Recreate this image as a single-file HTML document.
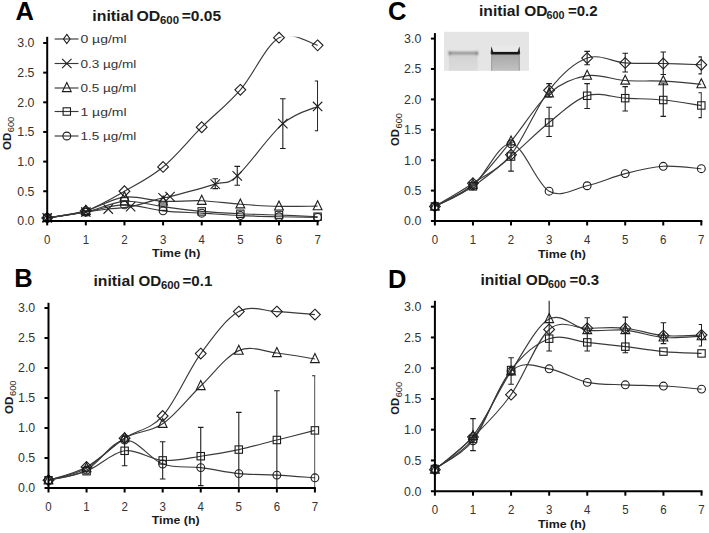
<!DOCTYPE html><html><head><meta charset="utf-8"><style>html,body{margin:0;padding:0;background:#fff;}svg{display:block;font-family:"Liberation Sans",sans-serif;}</style></head><body>
<svg width="709" height="533" viewBox="0 0 709 533">
<rect width="709" height="533" fill="#fff"/>
<defs><linearGradient id="lane1" x1="0" y1="0" x2="0" y2="1"><stop offset="0" stop-color="#d2d2d2"/><stop offset="1" stop-color="#dcdcdc"/></linearGradient><linearGradient id="lane2" x1="0" y1="0" x2="0" y2="1"><stop offset="0" stop-color="#a6a6a6"/><stop offset="1" stop-color="#c2c2c2"/></linearGradient></defs>
<clipPath id="cA"><rect x="47.20" y="36.80" width="276.40" height="184.10"/></clipPath>
<g clip-path="url(#cA)">
<path d="M47.20,217.94 C53.64,216.75 72.95,215.27 85.83,210.82 C98.71,206.37 111.58,198.56 124.46,191.25 C137.34,183.94 150.21,177.61 163.09,166.94 C175.97,156.26 188.84,140.05 201.72,127.21 C214.60,114.36 227.47,104.77 240.35,89.85 C253.23,74.92 266.10,45.08 278.98,37.66 C291.86,30.25 311.17,44.09 317.61,45.37" fill="none" stroke="#3a3a3a" stroke-width="1.15"/>
<path d="M47.20,217.94 C53.64,216.95 75.66,213.49 85.83,212.00 C96.00,210.52 100.77,209.93 108.24,209.04 C115.70,208.15 121.50,208.55 130.64,206.67 C139.78,204.79 156.52,199.45 163.09,197.77 C169.66,196.09 161.35,198.86 170.04,196.59 C178.74,194.31 204.04,187.59 215.24,184.13 C226.44,180.67 225.99,185.91 237.26,175.83 C248.53,165.75 269.45,135.21 282.84,123.65 C296.23,112.08 311.82,109.32 317.61,106.45" fill="none" stroke="#3a3a3a" stroke-width="1.15"/>
<path d="M47.20,217.94 C53.64,216.75 72.95,214.28 85.83,210.82 C98.71,207.36 111.58,198.76 124.46,197.18 C137.34,195.60 150.21,200.74 163.09,201.33 C175.97,201.92 188.84,200.24 201.72,200.74 C214.60,201.23 227.47,203.36 240.35,204.30 C253.23,205.23 266.10,206.07 278.98,206.37 C291.86,206.67 311.17,206.12 317.61,206.08" fill="none" stroke="#3a3a3a" stroke-width="1.15"/>
<path d="M47.20,217.94 C53.64,216.95 72.95,214.77 85.83,212.00 C98.71,209.24 111.58,202.22 124.46,201.33 C137.34,200.44 150.21,204.99 163.09,206.67 C175.97,208.35 188.84,210.23 201.72,211.41 C214.60,212.60 227.47,213.19 240.35,213.78 C253.23,214.38 266.10,214.48 278.98,214.97 C291.86,215.46 311.17,216.45 317.61,216.75" fill="none" stroke="#3a3a3a" stroke-width="1.15"/>
<path d="M47.20,217.94 C53.64,216.95 72.95,214.18 85.83,212.00 C98.71,209.83 111.58,205.09 124.46,204.89 C137.34,204.69 150.21,209.44 163.09,210.82 C175.97,212.20 188.84,212.40 201.72,213.19 C214.60,213.98 227.47,214.97 240.35,215.56 C253.23,216.16 266.10,216.45 278.98,216.75 C291.86,217.05 311.17,217.24 317.61,217.34" fill="none" stroke="#3a3a3a" stroke-width="1.15"/>
</g>
<clipPath id="eA"><rect x="37.20" y="36.80" width="280.90" height="184.10"/></clipPath>
<g clip-path="url(#eA)">
<path d="M215.24,178.80V188.58M212.44,178.80H218.04M212.44,188.58H218.04" stroke="#1e1e1e" stroke-width="1.1" fill="none"/>
<path d="M237.26,166.34V185.32M234.46,166.34H240.06M234.46,185.32H240.06" stroke="#1e1e1e" stroke-width="1.1" fill="none"/>
<path d="M282.84,98.74V148.55M280.04,98.74H285.64M280.04,148.55H285.64" stroke="#1e1e1e" stroke-width="1.1" fill="none"/>
<path d="M317.61,80.95V130.76M314.81,80.95H320.41M314.81,130.76H320.41" stroke="#1e1e1e" stroke-width="1.1" fill="none"/>
</g>
<path d="M47.20,212.53L52.60,217.94L47.20,223.34L41.80,217.94Z" fill="none" stroke="#1e1e1e" stroke-width="1.1"/>
<path d="M85.83,205.42L91.23,210.82L85.83,216.22L80.43,210.82Z" fill="none" stroke="#1e1e1e" stroke-width="1.1"/>
<path d="M124.46,185.85L129.86,191.25L124.46,196.65L119.06,191.25Z" fill="none" stroke="#1e1e1e" stroke-width="1.1"/>
<path d="M163.09,161.54L168.49,166.94L163.09,172.34L157.69,166.94Z" fill="none" stroke="#1e1e1e" stroke-width="1.1"/>
<path d="M201.72,121.81L207.12,127.21L201.72,132.61L196.32,127.21Z" fill="none" stroke="#1e1e1e" stroke-width="1.1"/>
<path d="M240.35,84.45L245.75,89.85L240.35,95.25L234.95,89.85Z" fill="none" stroke="#1e1e1e" stroke-width="1.1"/>
<path d="M278.98,32.26L284.38,37.66L278.98,43.06L273.58,37.66Z" fill="none" stroke="#1e1e1e" stroke-width="1.1"/>
<path d="M317.61,39.97L323.01,45.37L317.61,50.77L312.21,45.37Z" fill="none" stroke="#1e1e1e" stroke-width="1.1"/>
<path d="M42.50,213.24L51.90,222.63M42.50,222.63L51.90,213.24" fill="none" stroke="#1e1e1e" stroke-width="1.1"/>
<path d="M81.13,207.31L90.53,216.70M81.13,216.70L90.53,207.31" fill="none" stroke="#1e1e1e" stroke-width="1.1"/>
<path d="M103.54,204.34L112.94,213.74M103.54,213.74L112.94,204.34" fill="none" stroke="#1e1e1e" stroke-width="1.1"/>
<path d="M125.94,201.97L135.34,211.37M125.94,211.37L135.34,201.97" fill="none" stroke="#1e1e1e" stroke-width="1.1"/>
<path d="M158.39,193.07L167.79,202.47M158.39,202.47L167.79,193.07" fill="none" stroke="#1e1e1e" stroke-width="1.1"/>
<path d="M165.34,191.89L174.74,201.29M165.34,201.29L174.74,191.89" fill="none" stroke="#1e1e1e" stroke-width="1.1"/>
<path d="M210.54,179.43L219.94,188.83M210.54,188.83L219.94,179.43" fill="none" stroke="#1e1e1e" stroke-width="1.1"/>
<path d="M232.56,171.13L241.96,180.53M232.56,180.53L241.96,171.13" fill="none" stroke="#1e1e1e" stroke-width="1.1"/>
<path d="M278.14,118.95L287.54,128.35M278.14,128.35L287.54,118.95" fill="none" stroke="#1e1e1e" stroke-width="1.1"/>
<path d="M312.91,101.75L322.31,111.15M312.91,111.15L322.31,101.75" fill="none" stroke="#1e1e1e" stroke-width="1.1"/>
<path d="M47.20,212.53L51.60,221.53L42.80,221.53Z" fill="none" stroke="#1e1e1e" stroke-width="1.1" stroke-linejoin="miter"/>
<path d="M85.83,205.42L90.23,214.42L81.43,214.42Z" fill="none" stroke="#1e1e1e" stroke-width="1.1" stroke-linejoin="miter"/>
<path d="M124.46,191.78L128.86,200.78L120.06,200.78Z" fill="none" stroke="#1e1e1e" stroke-width="1.1" stroke-linejoin="miter"/>
<path d="M163.09,195.93L167.49,204.93L158.69,204.93Z" fill="none" stroke="#1e1e1e" stroke-width="1.1" stroke-linejoin="miter"/>
<path d="M201.72,195.34L206.12,204.34L197.32,204.34Z" fill="none" stroke="#1e1e1e" stroke-width="1.1" stroke-linejoin="miter"/>
<path d="M240.35,198.90L244.75,207.90L235.95,207.90Z" fill="none" stroke="#1e1e1e" stroke-width="1.1" stroke-linejoin="miter"/>
<path d="M278.98,200.97L283.38,209.97L274.58,209.97Z" fill="none" stroke="#1e1e1e" stroke-width="1.1" stroke-linejoin="miter"/>
<path d="M317.61,200.68L322.01,209.68L313.21,209.68Z" fill="none" stroke="#1e1e1e" stroke-width="1.1" stroke-linejoin="miter"/>
<rect x="43.50" y="214.24" width="7.40" height="7.40" fill="none" stroke="#1e1e1e" stroke-width="1.1"/>
<rect x="82.13" y="208.31" width="7.40" height="7.40" fill="none" stroke="#1e1e1e" stroke-width="1.1"/>
<rect x="120.76" y="197.63" width="7.40" height="7.40" fill="none" stroke="#1e1e1e" stroke-width="1.1"/>
<rect x="159.39" y="202.97" width="7.40" height="7.40" fill="none" stroke="#1e1e1e" stroke-width="1.1"/>
<rect x="198.02" y="207.71" width="7.40" height="7.40" fill="none" stroke="#1e1e1e" stroke-width="1.1"/>
<rect x="236.65" y="210.08" width="7.40" height="7.40" fill="none" stroke="#1e1e1e" stroke-width="1.1"/>
<rect x="275.28" y="211.27" width="7.40" height="7.40" fill="none" stroke="#1e1e1e" stroke-width="1.1"/>
<rect x="313.91" y="213.05" width="7.40" height="7.40" fill="none" stroke="#1e1e1e" stroke-width="1.1"/>
<circle cx="47.20" cy="217.94" r="3.90" fill="none" stroke="#1e1e1e" stroke-width="1.1"/>
<circle cx="85.83" cy="212.00" r="3.90" fill="none" stroke="#1e1e1e" stroke-width="1.1"/>
<circle cx="124.46" cy="204.89" r="3.90" fill="none" stroke="#1e1e1e" stroke-width="1.1"/>
<circle cx="163.09" cy="210.82" r="3.90" fill="none" stroke="#1e1e1e" stroke-width="1.1"/>
<circle cx="201.72" cy="213.19" r="3.90" fill="none" stroke="#1e1e1e" stroke-width="1.1"/>
<circle cx="240.35" cy="215.56" r="3.90" fill="none" stroke="#1e1e1e" stroke-width="1.1"/>
<circle cx="278.98" cy="216.75" r="3.90" fill="none" stroke="#1e1e1e" stroke-width="1.1"/>
<circle cx="317.61" cy="217.34" r="3.90" fill="none" stroke="#1e1e1e" stroke-width="1.1"/>
<path d="M47.20,36.80V225.40" stroke="#000" stroke-width="2"/>
<path d="M43.20,220.90H318.60" stroke="#000" stroke-width="2"/>
<text x="34.50" y="225.20" font-size="12.20" text-anchor="end" fill="#333333" textLength="17.20" lengthAdjust="spacingAndGlyphs" >0.0</text>
<path d="M43.20,191.25H47.20" stroke="#000" stroke-width="2"/>
<text x="34.50" y="195.55" font-size="12.20" text-anchor="end" fill="#333333" textLength="17.20" lengthAdjust="spacingAndGlyphs" >0.5</text>
<path d="M43.20,161.60H47.20" stroke="#000" stroke-width="2"/>
<text x="34.50" y="165.90" font-size="12.20" text-anchor="end" fill="#333333" textLength="17.20" lengthAdjust="spacingAndGlyphs" >1.0</text>
<path d="M43.20,131.95H47.20" stroke="#000" stroke-width="2"/>
<text x="34.50" y="136.25" font-size="12.20" text-anchor="end" fill="#333333" textLength="17.20" lengthAdjust="spacingAndGlyphs" >1.5</text>
<path d="M43.20,102.30H47.20" stroke="#000" stroke-width="2"/>
<text x="34.50" y="106.60" font-size="12.20" text-anchor="end" fill="#333333" textLength="17.20" lengthAdjust="spacingAndGlyphs" >2.0</text>
<path d="M43.20,72.65H47.20" stroke="#000" stroke-width="2"/>
<text x="34.50" y="76.95" font-size="12.20" text-anchor="end" fill="#333333" textLength="17.20" lengthAdjust="spacingAndGlyphs" >2.5</text>
<path d="M43.20,43.00H47.20" stroke="#000" stroke-width="2"/>
<text x="34.50" y="47.30" font-size="12.20" text-anchor="end" fill="#333333" textLength="17.20" lengthAdjust="spacingAndGlyphs" >3.0</text>
<text x="47.20" y="244.00" font-size="12.40" text-anchor="middle" fill="#333333" textLength="6.40" lengthAdjust="spacingAndGlyphs" >0</text>
<path d="M85.83,220.90V225.40" stroke="#000" stroke-width="2"/>
<text x="85.83" y="244.00" font-size="12.40" text-anchor="middle" fill="#333333" textLength="6.40" lengthAdjust="spacingAndGlyphs" >1</text>
<path d="M124.46,220.90V225.40" stroke="#000" stroke-width="2"/>
<text x="124.46" y="244.00" font-size="12.40" text-anchor="middle" fill="#333333" textLength="6.40" lengthAdjust="spacingAndGlyphs" >2</text>
<path d="M163.09,220.90V225.40" stroke="#000" stroke-width="2"/>
<text x="163.09" y="244.00" font-size="12.40" text-anchor="middle" fill="#333333" textLength="6.40" lengthAdjust="spacingAndGlyphs" >3</text>
<path d="M201.72,220.90V225.40" stroke="#000" stroke-width="2"/>
<text x="201.72" y="244.00" font-size="12.40" text-anchor="middle" fill="#333333" textLength="6.40" lengthAdjust="spacingAndGlyphs" >4</text>
<path d="M240.35,220.90V225.40" stroke="#000" stroke-width="2"/>
<text x="240.35" y="244.00" font-size="12.40" text-anchor="middle" fill="#333333" textLength="6.40" lengthAdjust="spacingAndGlyphs" >5</text>
<path d="M278.98,220.90V225.40" stroke="#000" stroke-width="2"/>
<text x="278.98" y="244.00" font-size="12.40" text-anchor="middle" fill="#333333" textLength="6.40" lengthAdjust="spacingAndGlyphs" >6</text>
<path d="M317.61,220.90V225.40" stroke="#000" stroke-width="2"/>
<text x="317.61" y="244.00" font-size="12.40" text-anchor="middle" fill="#333333" textLength="6.40" lengthAdjust="spacingAndGlyphs" >7</text>
<text x="152.00" y="257.00" font-size="11.20" font-weight="bold" fill="#1a1a1a" textLength="48.30" lengthAdjust="spacingAndGlyphs" >Time (h)</text>
<g transform="translate(10.80,150.00) rotate(-90)">
<text x="0.00" y="0.00" font-size="11.60" font-weight="bold" fill="#1a1a1a" textLength="17.30" lengthAdjust="spacingAndGlyphs" >OD</text>
<text x="17.80" y="2.80" font-size="8.40" fill="#1a1a1a" textLength="15.50" lengthAdjust="spacingAndGlyphs" >600</text>
</g>
<text x="15.50" y="19.50" font-size="25.50" font-weight="bold" fill="#000" >A</text>
<text x="92.30" y="21.20" font-size="15.50" font-weight="bold" fill="#1a1a1a" textLength="41.50" lengthAdjust="spacingAndGlyphs" >initial</text>
<text x="136.50" y="21.20" font-size="15.50" font-weight="bold" fill="#1a1a1a" textLength="23.80" lengthAdjust="spacingAndGlyphs" >OD</text>
<text x="160.00" y="24.40" font-size="10.00" font-weight="bold" fill="#1a1a1a" textLength="19.00" lengthAdjust="spacingAndGlyphs" >600</text>
<text x="181.80" y="21.20" font-size="15.50" font-weight="bold" fill="#1a1a1a" textLength="39.30" lengthAdjust="spacingAndGlyphs" >=0.05</text>
<clipPath id="cB"><rect x="48.50" y="302.80" width="272.30" height="185.20"/></clipPath>
<g clip-path="url(#cB)">
<path d="M48.50,480.20 C54.84,478.00 73.87,474.00 86.56,467.00 C99.25,460.00 111.93,446.70 124.62,438.20 C137.31,429.70 149.99,430.10 162.68,416.00 C175.37,401.90 188.05,371.00 200.74,353.60 C213.43,336.20 226.11,318.60 238.80,311.60 C251.49,304.60 264.17,311.10 276.86,311.60 C289.55,312.10 308.58,314.10 314.92,314.60" fill="none" stroke="#3a3a3a" stroke-width="1.15"/>
<path d="M48.50,480.20 C54.84,478.20 73.87,475.20 86.56,468.20 C99.25,461.20 111.93,445.60 124.62,438.20 C137.31,430.80 149.99,432.50 162.68,423.80 C175.37,415.10 188.05,398.20 200.74,386.00 C213.43,373.80 226.11,356.10 238.80,350.60 C251.49,345.10 264.17,351.60 276.86,353.00 C289.55,354.40 308.58,358.00 314.92,359.00" fill="none" stroke="#3a3a3a" stroke-width="1.15"/>
<path d="M48.50,480.20 C54.84,478.70 73.87,476.10 86.56,471.20 C99.25,466.30 111.93,452.60 124.62,450.80 C137.31,449.00 149.99,459.50 162.68,460.40 C175.37,461.30 188.05,458.00 200.74,456.20 C213.43,454.40 226.11,452.30 238.80,449.60 C251.49,446.90 264.17,443.20 276.86,440.00 C289.55,436.80 308.58,432.00 314.92,430.40" fill="none" stroke="#3a3a3a" stroke-width="1.15"/>
<path d="M48.50,480.20 C54.84,478.50 73.87,476.70 86.56,470.00 C99.25,463.30 111.93,441.00 124.62,440.00 C137.31,439.00 149.99,459.40 162.68,464.00 C175.37,468.60 188.05,466.00 200.74,467.60 C213.43,469.20 226.11,472.35 238.80,473.60 C251.49,474.85 264.17,474.40 276.86,475.10 C289.55,475.80 308.58,477.35 314.92,477.80" fill="none" stroke="#3a3a3a" stroke-width="1.15"/>
</g>
<clipPath id="eB"><rect x="38.50" y="302.80" width="276.80" height="185.20"/></clipPath>
<g clip-path="url(#eB)">
<path d="M124.62,435.80V465.80M121.82,435.80H127.42M121.82,465.80H127.42" stroke="#1e1e1e" stroke-width="1.1" fill="none"/>
<path d="M162.68,441.80V479.00M159.88,441.80H165.48M159.88,479.00H165.48" stroke="#1e1e1e" stroke-width="1.1" fill="none"/>
<path d="M200.74,427.40V485.60M197.94,427.40H203.54M197.94,485.60H203.54" stroke="#1e1e1e" stroke-width="1.1" fill="none"/>
<path d="M238.80,412.40V494.00M236.00,412.40H241.60M236.00,494.00H241.60" stroke="#1e1e1e" stroke-width="1.1" fill="none"/>
<path d="M276.86,390.80V494.00M274.06,390.80H279.66M274.06,494.00H279.66" stroke="#1e1e1e" stroke-width="1.1" fill="none"/>
<path d="M314.92,375.80V494.00M312.12,375.80H317.72M312.12,494.00H317.72" stroke="#1e1e1e" stroke-width="1.1" fill="none"/>
</g>
<path d="M48.50,474.80L53.90,480.20L48.50,485.60L43.10,480.20Z" fill="none" stroke="#1e1e1e" stroke-width="1.1"/>
<path d="M86.56,461.60L91.96,467.00L86.56,472.40L81.16,467.00Z" fill="none" stroke="#1e1e1e" stroke-width="1.1"/>
<path d="M124.62,432.80L130.02,438.20L124.62,443.60L119.22,438.20Z" fill="none" stroke="#1e1e1e" stroke-width="1.1"/>
<path d="M162.68,410.60L168.08,416.00L162.68,421.40L157.28,416.00Z" fill="none" stroke="#1e1e1e" stroke-width="1.1"/>
<path d="M200.74,348.20L206.14,353.60L200.74,359.00L195.34,353.60Z" fill="none" stroke="#1e1e1e" stroke-width="1.1"/>
<path d="M238.80,306.20L244.20,311.60L238.80,317.00L233.40,311.60Z" fill="none" stroke="#1e1e1e" stroke-width="1.1"/>
<path d="M276.86,306.20L282.26,311.60L276.86,317.00L271.46,311.60Z" fill="none" stroke="#1e1e1e" stroke-width="1.1"/>
<path d="M314.92,309.20L320.32,314.60L314.92,320.00L309.52,314.60Z" fill="none" stroke="#1e1e1e" stroke-width="1.1"/>
<path d="M48.50,474.80L52.90,483.80L44.10,483.80Z" fill="none" stroke="#1e1e1e" stroke-width="1.1" stroke-linejoin="miter"/>
<path d="M86.56,462.80L90.96,471.80L82.16,471.80Z" fill="none" stroke="#1e1e1e" stroke-width="1.1" stroke-linejoin="miter"/>
<path d="M124.62,432.80L129.02,441.80L120.22,441.80Z" fill="none" stroke="#1e1e1e" stroke-width="1.1" stroke-linejoin="miter"/>
<path d="M162.68,418.40L167.08,427.40L158.28,427.40Z" fill="none" stroke="#1e1e1e" stroke-width="1.1" stroke-linejoin="miter"/>
<path d="M200.74,380.60L205.14,389.60L196.34,389.60Z" fill="none" stroke="#1e1e1e" stroke-width="1.1" stroke-linejoin="miter"/>
<path d="M238.80,345.20L243.20,354.20L234.40,354.20Z" fill="none" stroke="#1e1e1e" stroke-width="1.1" stroke-linejoin="miter"/>
<path d="M276.86,347.60L281.26,356.60L272.46,356.60Z" fill="none" stroke="#1e1e1e" stroke-width="1.1" stroke-linejoin="miter"/>
<path d="M314.92,353.60L319.32,362.60L310.52,362.60Z" fill="none" stroke="#1e1e1e" stroke-width="1.1" stroke-linejoin="miter"/>
<rect x="44.80" y="476.50" width="7.40" height="7.40" fill="none" stroke="#1e1e1e" stroke-width="1.1"/>
<rect x="82.86" y="467.50" width="7.40" height="7.40" fill="none" stroke="#1e1e1e" stroke-width="1.1"/>
<rect x="120.92" y="447.10" width="7.40" height="7.40" fill="none" stroke="#1e1e1e" stroke-width="1.1"/>
<rect x="158.98" y="456.70" width="7.40" height="7.40" fill="none" stroke="#1e1e1e" stroke-width="1.1"/>
<rect x="197.04" y="452.50" width="7.40" height="7.40" fill="none" stroke="#1e1e1e" stroke-width="1.1"/>
<rect x="235.10" y="445.90" width="7.40" height="7.40" fill="none" stroke="#1e1e1e" stroke-width="1.1"/>
<rect x="273.16" y="436.30" width="7.40" height="7.40" fill="none" stroke="#1e1e1e" stroke-width="1.1"/>
<rect x="311.22" y="426.70" width="7.40" height="7.40" fill="none" stroke="#1e1e1e" stroke-width="1.1"/>
<circle cx="48.50" cy="480.20" r="3.90" fill="none" stroke="#1e1e1e" stroke-width="1.1"/>
<circle cx="86.56" cy="470.00" r="3.90" fill="none" stroke="#1e1e1e" stroke-width="1.1"/>
<circle cx="124.62" cy="440.00" r="3.90" fill="none" stroke="#1e1e1e" stroke-width="1.1"/>
<circle cx="162.68" cy="464.00" r="3.90" fill="none" stroke="#1e1e1e" stroke-width="1.1"/>
<circle cx="200.74" cy="467.60" r="3.90" fill="none" stroke="#1e1e1e" stroke-width="1.1"/>
<circle cx="238.80" cy="473.60" r="3.90" fill="none" stroke="#1e1e1e" stroke-width="1.1"/>
<circle cx="276.86" cy="475.10" r="3.90" fill="none" stroke="#1e1e1e" stroke-width="1.1"/>
<circle cx="314.92" cy="477.80" r="3.90" fill="none" stroke="#1e1e1e" stroke-width="1.1"/>
<path d="M48.50,302.80V492.50" stroke="#000" stroke-width="2"/>
<path d="M44.50,488.00H315.80" stroke="#000" stroke-width="2"/>
<text x="35.20" y="492.30" font-size="12.20" text-anchor="end" fill="#333333" textLength="17.20" lengthAdjust="spacingAndGlyphs" >0.0</text>
<path d="M44.50,458.00H48.50" stroke="#000" stroke-width="2"/>
<text x="35.20" y="462.30" font-size="12.20" text-anchor="end" fill="#333333" textLength="17.20" lengthAdjust="spacingAndGlyphs" >0.5</text>
<path d="M44.50,428.00H48.50" stroke="#000" stroke-width="2"/>
<text x="35.20" y="432.30" font-size="12.20" text-anchor="end" fill="#333333" textLength="17.20" lengthAdjust="spacingAndGlyphs" >1.0</text>
<path d="M44.50,398.00H48.50" stroke="#000" stroke-width="2"/>
<text x="35.20" y="402.30" font-size="12.20" text-anchor="end" fill="#333333" textLength="17.20" lengthAdjust="spacingAndGlyphs" >1.5</text>
<path d="M44.50,368.00H48.50" stroke="#000" stroke-width="2"/>
<text x="35.20" y="372.30" font-size="12.20" text-anchor="end" fill="#333333" textLength="17.20" lengthAdjust="spacingAndGlyphs" >2.0</text>
<path d="M44.50,338.00H48.50" stroke="#000" stroke-width="2"/>
<text x="35.20" y="342.30" font-size="12.20" text-anchor="end" fill="#333333" textLength="17.20" lengthAdjust="spacingAndGlyphs" >2.5</text>
<path d="M44.50,308.00H48.50" stroke="#000" stroke-width="2"/>
<text x="35.20" y="312.30" font-size="12.20" text-anchor="end" fill="#333333" textLength="17.20" lengthAdjust="spacingAndGlyphs" >3.0</text>
<text x="48.50" y="511.10" font-size="12.40" text-anchor="middle" fill="#333333" textLength="6.40" lengthAdjust="spacingAndGlyphs" >0</text>
<path d="M86.56,488.00V492.50" stroke="#000" stroke-width="2"/>
<text x="86.56" y="511.10" font-size="12.40" text-anchor="middle" fill="#333333" textLength="6.40" lengthAdjust="spacingAndGlyphs" >1</text>
<path d="M124.62,488.00V492.50" stroke="#000" stroke-width="2"/>
<text x="124.62" y="511.10" font-size="12.40" text-anchor="middle" fill="#333333" textLength="6.40" lengthAdjust="spacingAndGlyphs" >2</text>
<path d="M162.68,488.00V492.50" stroke="#000" stroke-width="2"/>
<text x="162.68" y="511.10" font-size="12.40" text-anchor="middle" fill="#333333" textLength="6.40" lengthAdjust="spacingAndGlyphs" >3</text>
<path d="M200.74,488.00V492.50" stroke="#000" stroke-width="2"/>
<text x="200.74" y="511.10" font-size="12.40" text-anchor="middle" fill="#333333" textLength="6.40" lengthAdjust="spacingAndGlyphs" >4</text>
<path d="M238.80,488.00V492.50" stroke="#000" stroke-width="2"/>
<text x="238.80" y="511.10" font-size="12.40" text-anchor="middle" fill="#333333" textLength="6.40" lengthAdjust="spacingAndGlyphs" >5</text>
<path d="M276.86,488.00V492.50" stroke="#000" stroke-width="2"/>
<text x="276.86" y="511.10" font-size="12.40" text-anchor="middle" fill="#333333" textLength="6.40" lengthAdjust="spacingAndGlyphs" >6</text>
<path d="M314.92,488.00V492.50" stroke="#000" stroke-width="2"/>
<text x="314.92" y="511.10" font-size="12.40" text-anchor="middle" fill="#333333" textLength="6.40" lengthAdjust="spacingAndGlyphs" >7</text>
<text x="151.70" y="524.00" font-size="11.20" font-weight="bold" fill="#1a1a1a" textLength="48.00" lengthAdjust="spacingAndGlyphs" >Time (h)</text>
<g transform="translate(12.70,413.90) rotate(-90)">
<text x="0.00" y="0.00" font-size="11.60" font-weight="bold" fill="#1a1a1a" textLength="17.40" lengthAdjust="spacingAndGlyphs" >OD</text>
<text x="17.90" y="2.80" font-size="8.40" fill="#1a1a1a" textLength="15.50" lengthAdjust="spacingAndGlyphs" >600</text>
</g>
<text x="14.20" y="287.30" font-size="25.50" font-weight="bold" fill="#000" >B</text>
<text x="93.45" y="286.10" font-size="15.50" font-weight="bold" fill="#1a1a1a" textLength="41.15" lengthAdjust="spacingAndGlyphs" >initial</text>
<text x="138.40" y="286.10" font-size="15.50" font-weight="bold" fill="#1a1a1a" textLength="22.70" lengthAdjust="spacingAndGlyphs" >OD</text>
<text x="160.90" y="289.30" font-size="10.00" font-weight="bold" fill="#1a1a1a" textLength="19.00" lengthAdjust="spacingAndGlyphs" >600</text>
<text x="182.50" y="286.10" font-size="15.50" font-weight="bold" fill="#1a1a1a" textLength="29.80" lengthAdjust="spacingAndGlyphs" >=0.1</text>
<clipPath id="cC"><rect x="434.90" y="33.10" width="272.40" height="187.90"/></clipPath>
<g clip-path="url(#cC)">
<path d="M434.90,206.41 C441.24,202.56 460.27,191.92 472.96,183.30 C485.65,174.69 498.33,170.23 511.02,154.73 C523.71,139.22 536.39,106.39 549.08,90.28 C561.77,74.17 574.45,62.62 587.14,58.06 C599.83,53.50 612.51,62.01 625.20,62.92 C637.89,63.83 650.57,63.22 663.26,63.53 C675.95,63.83 694.98,64.54 701.32,64.74" fill="none" stroke="#3a3a3a" stroke-width="1.15"/>
<path d="M434.90,206.41 C441.24,202.76 460.27,195.36 472.96,184.52 C485.65,173.68 498.33,156.55 511.02,141.35 C523.71,126.15 536.39,104.26 549.08,93.32 C561.77,82.38 574.45,77.82 587.14,75.69 C599.83,73.56 612.51,79.64 625.20,80.55 C637.89,81.46 650.57,80.55 663.26,81.16 C675.95,81.77 694.98,83.69 701.32,84.20" fill="none" stroke="#3a3a3a" stroke-width="1.15"/>
<path d="M434.90,206.41 C441.24,203.06 460.27,194.65 472.96,186.34 C485.65,178.03 498.33,167.19 511.02,156.55 C523.71,145.91 536.39,132.64 549.08,122.50 C561.77,112.37 574.45,99.81 587.14,95.75 C599.83,91.70 612.51,97.47 625.20,98.18 C637.89,98.89 650.57,98.79 663.26,100.01 C675.95,101.22 694.98,104.57 701.32,105.48" fill="none" stroke="#3a3a3a" stroke-width="1.15"/>
<path d="M434.90,206.41 C441.24,202.96 460.27,196.17 472.96,185.74 C485.65,175.30 498.33,142.87 511.02,143.78 C523.71,144.70 536.39,184.22 549.08,191.21 C561.77,198.20 574.45,188.67 587.14,185.74 C599.83,182.80 612.51,176.82 625.20,173.58 C637.89,170.33 650.57,167.09 663.26,166.28 C675.95,165.47 694.98,168.31 701.32,168.71" fill="none" stroke="#3a3a3a" stroke-width="1.15"/>
</g>
<clipPath id="eC"><rect x="424.90" y="33.10" width="276.90" height="187.90"/></clipPath>
<g clip-path="url(#eC)">
<path d="M549.08,83.59V96.97M546.28,83.59H551.88M546.28,96.97H551.88" stroke="#1e1e1e" stroke-width="1.1" fill="none"/>
<path d="M587.14,51.37V64.74M584.34,51.37H589.94M584.34,64.74H589.94" stroke="#1e1e1e" stroke-width="1.1" fill="none"/>
<path d="M625.20,53.19V72.04M622.40,53.19H628.00M622.40,72.04H628.00" stroke="#1e1e1e" stroke-width="1.1" fill="none"/>
<path d="M663.26,51.98V74.47M660.46,51.98H666.06M660.46,74.47H666.06" stroke="#1e1e1e" stroke-width="1.1" fill="none"/>
<path d="M701.32,56.84V73.86M698.52,56.84H704.12M698.52,73.86H704.12" stroke="#1e1e1e" stroke-width="1.1" fill="none"/>
<path d="M511.02,141.96V171.14M508.22,141.96H513.82M508.22,171.14H513.82" stroke="#1e1e1e" stroke-width="1.1" fill="none"/>
<path d="M549.08,107.30V136.49M546.28,107.30H551.88M546.28,136.49H551.88" stroke="#1e1e1e" stroke-width="1.1" fill="none"/>
<path d="M587.14,83.59V108.52M584.34,83.59H589.94M584.34,108.52H589.94" stroke="#1e1e1e" stroke-width="1.1" fill="none"/>
<path d="M625.20,86.63V110.95M622.40,86.63H628.00M622.40,110.95H628.00" stroke="#1e1e1e" stroke-width="1.1" fill="none"/>
<path d="M663.26,82.98V116.42M660.46,82.98H666.06M660.46,116.42H666.06" stroke="#1e1e1e" stroke-width="1.1" fill="none"/>
<path d="M701.32,92.71V117.64M698.52,92.71H704.12M698.52,117.64H704.12" stroke="#1e1e1e" stroke-width="1.1" fill="none"/>
</g>
<path d="M434.90,201.01L440.30,206.41L434.90,211.81L429.50,206.41Z" fill="none" stroke="#1e1e1e" stroke-width="1.1"/>
<path d="M472.96,177.90L478.36,183.30L472.96,188.70L467.56,183.30Z" fill="none" stroke="#1e1e1e" stroke-width="1.1"/>
<path d="M511.02,149.33L516.42,154.73L511.02,160.13L505.62,154.73Z" fill="none" stroke="#1e1e1e" stroke-width="1.1"/>
<path d="M549.08,84.88L554.48,90.28L549.08,95.68L543.68,90.28Z" fill="none" stroke="#1e1e1e" stroke-width="1.1"/>
<path d="M587.14,52.66L592.54,58.06L587.14,63.46L581.74,58.06Z" fill="none" stroke="#1e1e1e" stroke-width="1.1"/>
<path d="M625.20,57.52L630.60,62.92L625.20,68.32L619.80,62.92Z" fill="none" stroke="#1e1e1e" stroke-width="1.1"/>
<path d="M663.26,58.13L668.66,63.53L663.26,68.93L657.86,63.53Z" fill="none" stroke="#1e1e1e" stroke-width="1.1"/>
<path d="M701.32,59.34L706.72,64.74L701.32,70.14L695.92,64.74Z" fill="none" stroke="#1e1e1e" stroke-width="1.1"/>
<path d="M434.90,201.01L439.30,210.01L430.50,210.01Z" fill="none" stroke="#1e1e1e" stroke-width="1.1" stroke-linejoin="miter"/>
<path d="M472.96,179.12L477.36,188.12L468.56,188.12Z" fill="none" stroke="#1e1e1e" stroke-width="1.1" stroke-linejoin="miter"/>
<path d="M511.02,135.95L515.42,144.95L506.62,144.95Z" fill="none" stroke="#1e1e1e" stroke-width="1.1" stroke-linejoin="miter"/>
<path d="M549.08,87.92L553.48,96.92L544.68,96.92Z" fill="none" stroke="#1e1e1e" stroke-width="1.1" stroke-linejoin="miter"/>
<path d="M587.14,70.29L591.54,79.29L582.74,79.29Z" fill="none" stroke="#1e1e1e" stroke-width="1.1" stroke-linejoin="miter"/>
<path d="M625.20,75.15L629.60,84.15L620.80,84.15Z" fill="none" stroke="#1e1e1e" stroke-width="1.1" stroke-linejoin="miter"/>
<path d="M663.26,75.76L667.66,84.76L658.86,84.76Z" fill="none" stroke="#1e1e1e" stroke-width="1.1" stroke-linejoin="miter"/>
<path d="M701.32,78.80L705.72,87.80L696.92,87.80Z" fill="none" stroke="#1e1e1e" stroke-width="1.1" stroke-linejoin="miter"/>
<rect x="431.20" y="202.71" width="7.40" height="7.40" fill="none" stroke="#1e1e1e" stroke-width="1.1"/>
<rect x="469.26" y="182.64" width="7.40" height="7.40" fill="none" stroke="#1e1e1e" stroke-width="1.1"/>
<rect x="507.32" y="152.85" width="7.40" height="7.40" fill="none" stroke="#1e1e1e" stroke-width="1.1"/>
<rect x="545.38" y="118.80" width="7.40" height="7.40" fill="none" stroke="#1e1e1e" stroke-width="1.1"/>
<rect x="583.44" y="92.05" width="7.40" height="7.40" fill="none" stroke="#1e1e1e" stroke-width="1.1"/>
<rect x="621.50" y="94.48" width="7.40" height="7.40" fill="none" stroke="#1e1e1e" stroke-width="1.1"/>
<rect x="659.56" y="96.31" width="7.40" height="7.40" fill="none" stroke="#1e1e1e" stroke-width="1.1"/>
<rect x="697.62" y="101.78" width="7.40" height="7.40" fill="none" stroke="#1e1e1e" stroke-width="1.1"/>
<circle cx="434.90" cy="206.41" r="3.90" fill="none" stroke="#1e1e1e" stroke-width="1.1"/>
<circle cx="472.96" cy="185.74" r="3.90" fill="none" stroke="#1e1e1e" stroke-width="1.1"/>
<circle cx="511.02" cy="143.78" r="3.90" fill="none" stroke="#1e1e1e" stroke-width="1.1"/>
<circle cx="549.08" cy="191.21" r="3.90" fill="none" stroke="#1e1e1e" stroke-width="1.1"/>
<circle cx="587.14" cy="185.74" r="3.90" fill="none" stroke="#1e1e1e" stroke-width="1.1"/>
<circle cx="625.20" cy="173.58" r="3.90" fill="none" stroke="#1e1e1e" stroke-width="1.1"/>
<circle cx="663.26" cy="166.28" r="3.90" fill="none" stroke="#1e1e1e" stroke-width="1.1"/>
<circle cx="701.32" cy="168.71" r="3.90" fill="none" stroke="#1e1e1e" stroke-width="1.1"/>
<path d="M434.90,33.10V225.50" stroke="#000" stroke-width="2"/>
<path d="M430.90,221.00H702.30" stroke="#000" stroke-width="2"/>
<text x="421.30" y="225.30" font-size="12.20" text-anchor="end" fill="#333333" textLength="17.20" lengthAdjust="spacingAndGlyphs" >0.0</text>
<path d="M430.90,190.60H434.90" stroke="#000" stroke-width="2"/>
<text x="421.30" y="194.90" font-size="12.20" text-anchor="end" fill="#333333" textLength="17.20" lengthAdjust="spacingAndGlyphs" >0.5</text>
<path d="M430.90,160.20H434.90" stroke="#000" stroke-width="2"/>
<text x="421.30" y="164.50" font-size="12.20" text-anchor="end" fill="#333333" textLength="17.20" lengthAdjust="spacingAndGlyphs" >1.0</text>
<path d="M430.90,129.80H434.90" stroke="#000" stroke-width="2"/>
<text x="421.30" y="134.10" font-size="12.20" text-anchor="end" fill="#333333" textLength="17.20" lengthAdjust="spacingAndGlyphs" >1.5</text>
<path d="M430.90,99.40H434.90" stroke="#000" stroke-width="2"/>
<text x="421.30" y="103.70" font-size="12.20" text-anchor="end" fill="#333333" textLength="17.20" lengthAdjust="spacingAndGlyphs" >2.0</text>
<path d="M430.90,69.00H434.90" stroke="#000" stroke-width="2"/>
<text x="421.30" y="73.30" font-size="12.20" text-anchor="end" fill="#333333" textLength="17.20" lengthAdjust="spacingAndGlyphs" >2.5</text>
<path d="M430.90,38.60H434.90" stroke="#000" stroke-width="2"/>
<text x="421.30" y="42.90" font-size="12.20" text-anchor="end" fill="#333333" textLength="17.20" lengthAdjust="spacingAndGlyphs" >3.0</text>
<text x="434.90" y="244.10" font-size="12.40" text-anchor="middle" fill="#333333" textLength="6.40" lengthAdjust="spacingAndGlyphs" >0</text>
<path d="M472.96,221.00V225.50" stroke="#000" stroke-width="2"/>
<text x="472.96" y="244.10" font-size="12.40" text-anchor="middle" fill="#333333" textLength="6.40" lengthAdjust="spacingAndGlyphs" >1</text>
<path d="M511.02,221.00V225.50" stroke="#000" stroke-width="2"/>
<text x="511.02" y="244.10" font-size="12.40" text-anchor="middle" fill="#333333" textLength="6.40" lengthAdjust="spacingAndGlyphs" >2</text>
<path d="M549.08,221.00V225.50" stroke="#000" stroke-width="2"/>
<text x="549.08" y="244.10" font-size="12.40" text-anchor="middle" fill="#333333" textLength="6.40" lengthAdjust="spacingAndGlyphs" >3</text>
<path d="M587.14,221.00V225.50" stroke="#000" stroke-width="2"/>
<text x="587.14" y="244.10" font-size="12.40" text-anchor="middle" fill="#333333" textLength="6.40" lengthAdjust="spacingAndGlyphs" >4</text>
<path d="M625.20,221.00V225.50" stroke="#000" stroke-width="2"/>
<text x="625.20" y="244.10" font-size="12.40" text-anchor="middle" fill="#333333" textLength="6.40" lengthAdjust="spacingAndGlyphs" >5</text>
<path d="M663.26,221.00V225.50" stroke="#000" stroke-width="2"/>
<text x="663.26" y="244.10" font-size="12.40" text-anchor="middle" fill="#333333" textLength="6.40" lengthAdjust="spacingAndGlyphs" >6</text>
<path d="M701.32,221.00V225.50" stroke="#000" stroke-width="2"/>
<text x="701.32" y="244.10" font-size="12.40" text-anchor="middle" fill="#333333" textLength="6.40" lengthAdjust="spacingAndGlyphs" >7</text>
<text x="537.90" y="258.30" font-size="11.20" font-weight="bold" fill="#1a1a1a" textLength="48.00" lengthAdjust="spacingAndGlyphs" >Time (h)</text>
<g transform="translate(398.90,145.90) rotate(-90)">
<text x="0.00" y="0.00" font-size="11.60" font-weight="bold" fill="#1a1a1a" textLength="16.90" lengthAdjust="spacingAndGlyphs" >OD</text>
<text x="17.40" y="2.80" font-size="8.40" fill="#1a1a1a" textLength="15.50" lengthAdjust="spacingAndGlyphs" >600</text>
</g>
<text x="388.00" y="19.80" font-size="25.50" font-weight="bold" fill="#000" >C</text>
<text x="479.00" y="15.90" font-size="15.50" font-weight="bold" fill="#1a1a1a" textLength="40.90" lengthAdjust="spacingAndGlyphs" >initial</text>
<text x="524.30" y="15.90" font-size="15.50" font-weight="bold" fill="#1a1a1a" textLength="23.20" lengthAdjust="spacingAndGlyphs" >OD</text>
<text x="546.60" y="19.10" font-size="10.00" font-weight="bold" fill="#1a1a1a" textLength="18.00" lengthAdjust="spacingAndGlyphs" >600</text>
<text x="567.90" y="15.90" font-size="15.50" font-weight="bold" fill="#1a1a1a" textLength="29.70" lengthAdjust="spacingAndGlyphs" >=0.2</text>
<clipPath id="cD"><rect x="434.90" y="300.80" width="272.60" height="190.40"/></clipPath>
<g clip-path="url(#cD)">
<path d="M434.90,469.68 C441.25,464.24 460.29,449.58 472.99,437.08 C485.69,424.57 498.38,412.58 511.08,394.64 C523.78,376.71 536.47,340.52 549.17,329.45 C561.87,318.38 574.56,328.43 587.26,328.23 C599.96,328.02 612.65,327.00 625.35,328.23 C638.05,329.46 650.74,334.48 663.44,335.61 C676.14,336.73 695.18,335.09 701.53,334.99" fill="none" stroke="#3a3a3a" stroke-width="1.15"/>
<path d="M434.90,469.68 C441.25,464.04 460.29,452.25 472.99,435.85 C485.69,419.45 498.38,390.75 511.08,371.27 C523.78,351.80 536.47,325.87 549.17,319.00 C561.87,312.13 574.56,328.23 587.26,330.07 C599.96,331.91 612.65,328.84 625.35,330.07 C638.05,331.30 650.74,336.42 663.44,337.45 C676.14,338.48 695.18,336.43 701.53,336.22" fill="none" stroke="#3a3a3a" stroke-width="1.15"/>
<path d="M434.90,469.06 C441.25,464.04 460.29,455.43 472.99,438.93 C485.69,422.42 498.38,386.75 511.08,370.04 C523.78,353.34 536.47,343.29 549.17,338.68 C561.87,334.07 574.56,341.04 587.26,342.37 C599.96,343.70 612.65,345.14 625.35,346.67 C638.05,348.21 650.74,350.47 663.44,351.60 C676.14,352.72 695.18,353.13 701.53,353.44" fill="none" stroke="#3a3a3a" stroke-width="1.15"/>
<path d="M434.90,468.44 C441.25,463.83 460.29,456.96 472.99,440.77 C485.69,424.57 498.38,383.27 511.08,371.27 C523.78,359.28 536.47,366.97 549.17,368.81 C561.87,370.66 574.56,379.68 587.26,382.34 C599.96,385.01 612.65,384.19 625.35,384.81 C638.05,385.42 650.74,385.32 663.44,386.03 C676.14,386.75 695.18,388.60 701.53,389.11" fill="none" stroke="#3a3a3a" stroke-width="1.15"/>
</g>
<clipPath id="eD"><rect x="424.90" y="300.80" width="277.10" height="190.40"/></clipPath>
<g clip-path="url(#eD)">
<path d="M549.17,288.25V350.98M546.37,288.25H551.97M546.37,350.98H551.97" stroke="#1e1e1e" stroke-width="1.1" fill="none"/>
<path d="M587.26,317.77V350.98M584.46,317.77H590.06M584.46,350.98H590.06" stroke="#1e1e1e" stroke-width="1.1" fill="none"/>
<path d="M625.35,317.15V352.82M622.55,317.15H628.15M622.55,352.82H628.15" stroke="#1e1e1e" stroke-width="1.1" fill="none"/>
<path d="M663.44,322.69V343.60M660.64,322.69H666.24M660.64,343.60H666.24" stroke="#1e1e1e" stroke-width="1.1" fill="none"/>
<path d="M701.53,324.53V346.06M698.73,324.53H704.33M698.73,346.06H704.33" stroke="#1e1e1e" stroke-width="1.1" fill="none"/>
<path d="M472.99,418.63V450.61M470.19,418.63H475.79M470.19,450.61H475.79" stroke="#1e1e1e" stroke-width="1.1" fill="none"/>
<path d="M511.08,357.75V384.19M508.28,357.75H513.88M508.28,384.19H513.88" stroke="#1e1e1e" stroke-width="1.1" fill="none"/>
</g>
<path d="M434.90,464.28L440.30,469.68L434.90,475.07L429.50,469.68Z" fill="none" stroke="#1e1e1e" stroke-width="1.1"/>
<path d="M472.99,431.68L478.39,437.08L472.99,442.48L467.59,437.08Z" fill="none" stroke="#1e1e1e" stroke-width="1.1"/>
<path d="M511.08,389.25L516.48,394.64L511.08,400.04L505.68,394.64Z" fill="none" stroke="#1e1e1e" stroke-width="1.1"/>
<path d="M549.17,324.06L554.57,329.45L549.17,334.85L543.77,329.45Z" fill="none" stroke="#1e1e1e" stroke-width="1.1"/>
<path d="M587.26,322.83L592.66,328.23L587.26,333.62L581.86,328.23Z" fill="none" stroke="#1e1e1e" stroke-width="1.1"/>
<path d="M625.35,322.83L630.75,328.23L625.35,333.62L619.95,328.23Z" fill="none" stroke="#1e1e1e" stroke-width="1.1"/>
<path d="M663.44,330.21L668.84,335.61L663.44,341.00L658.04,335.61Z" fill="none" stroke="#1e1e1e" stroke-width="1.1"/>
<path d="M701.53,329.59L706.93,334.99L701.53,340.39L696.13,334.99Z" fill="none" stroke="#1e1e1e" stroke-width="1.1"/>
<path d="M434.90,464.28L439.30,473.28L430.50,473.28Z" fill="none" stroke="#1e1e1e" stroke-width="1.1" stroke-linejoin="miter"/>
<path d="M472.99,430.45L477.39,439.45L468.59,439.45Z" fill="none" stroke="#1e1e1e" stroke-width="1.1" stroke-linejoin="miter"/>
<path d="M511.08,365.88L515.48,374.88L506.68,374.88Z" fill="none" stroke="#1e1e1e" stroke-width="1.1" stroke-linejoin="miter"/>
<path d="M549.17,313.60L553.57,322.60L544.77,322.60Z" fill="none" stroke="#1e1e1e" stroke-width="1.1" stroke-linejoin="miter"/>
<path d="M587.26,324.67L591.66,333.67L582.86,333.67Z" fill="none" stroke="#1e1e1e" stroke-width="1.1" stroke-linejoin="miter"/>
<path d="M625.35,324.67L629.75,333.67L620.95,333.67Z" fill="none" stroke="#1e1e1e" stroke-width="1.1" stroke-linejoin="miter"/>
<path d="M663.44,332.05L667.84,341.05L659.04,341.05Z" fill="none" stroke="#1e1e1e" stroke-width="1.1" stroke-linejoin="miter"/>
<path d="M701.53,330.82L705.93,339.82L697.13,339.82Z" fill="none" stroke="#1e1e1e" stroke-width="1.1" stroke-linejoin="miter"/>
<rect x="431.20" y="465.36" width="7.40" height="7.40" fill="none" stroke="#1e1e1e" stroke-width="1.1"/>
<rect x="469.29" y="435.23" width="7.40" height="7.40" fill="none" stroke="#1e1e1e" stroke-width="1.1"/>
<rect x="507.38" y="366.34" width="7.40" height="7.40" fill="none" stroke="#1e1e1e" stroke-width="1.1"/>
<rect x="545.47" y="334.98" width="7.40" height="7.40" fill="none" stroke="#1e1e1e" stroke-width="1.1"/>
<rect x="583.56" y="338.67" width="7.40" height="7.40" fill="none" stroke="#1e1e1e" stroke-width="1.1"/>
<rect x="621.65" y="342.97" width="7.40" height="7.40" fill="none" stroke="#1e1e1e" stroke-width="1.1"/>
<rect x="659.74" y="347.90" width="7.40" height="7.40" fill="none" stroke="#1e1e1e" stroke-width="1.1"/>
<rect x="697.83" y="349.74" width="7.40" height="7.40" fill="none" stroke="#1e1e1e" stroke-width="1.1"/>
<circle cx="434.90" cy="468.44" r="3.90" fill="none" stroke="#1e1e1e" stroke-width="1.1"/>
<circle cx="472.99" cy="440.77" r="3.90" fill="none" stroke="#1e1e1e" stroke-width="1.1"/>
<circle cx="511.08" cy="371.27" r="3.90" fill="none" stroke="#1e1e1e" stroke-width="1.1"/>
<circle cx="549.17" cy="368.81" r="3.90" fill="none" stroke="#1e1e1e" stroke-width="1.1"/>
<circle cx="587.26" cy="382.34" r="3.90" fill="none" stroke="#1e1e1e" stroke-width="1.1"/>
<circle cx="625.35" cy="384.81" r="3.90" fill="none" stroke="#1e1e1e" stroke-width="1.1"/>
<circle cx="663.44" cy="386.03" r="3.90" fill="none" stroke="#1e1e1e" stroke-width="1.1"/>
<circle cx="701.53" cy="389.11" r="3.90" fill="none" stroke="#1e1e1e" stroke-width="1.1"/>
<path d="M434.90,300.80V495.70" stroke="#000" stroke-width="2"/>
<path d="M430.90,491.20H702.50" stroke="#000" stroke-width="2"/>
<text x="421.30" y="495.50" font-size="12.20" text-anchor="end" fill="#333333" textLength="17.20" lengthAdjust="spacingAndGlyphs" >0.0</text>
<path d="M430.90,460.45H434.90" stroke="#000" stroke-width="2"/>
<text x="421.30" y="464.75" font-size="12.20" text-anchor="end" fill="#333333" textLength="17.20" lengthAdjust="spacingAndGlyphs" >0.5</text>
<path d="M430.90,429.70H434.90" stroke="#000" stroke-width="2"/>
<text x="421.30" y="434.00" font-size="12.20" text-anchor="end" fill="#333333" textLength="17.20" lengthAdjust="spacingAndGlyphs" >1.0</text>
<path d="M430.90,398.95H434.90" stroke="#000" stroke-width="2"/>
<text x="421.30" y="403.25" font-size="12.20" text-anchor="end" fill="#333333" textLength="17.20" lengthAdjust="spacingAndGlyphs" >1.5</text>
<path d="M430.90,368.20H434.90" stroke="#000" stroke-width="2"/>
<text x="421.30" y="372.50" font-size="12.20" text-anchor="end" fill="#333333" textLength="17.20" lengthAdjust="spacingAndGlyphs" >2.0</text>
<path d="M430.90,337.45H434.90" stroke="#000" stroke-width="2"/>
<text x="421.30" y="341.75" font-size="12.20" text-anchor="end" fill="#333333" textLength="17.20" lengthAdjust="spacingAndGlyphs" >2.5</text>
<path d="M430.90,306.70H434.90" stroke="#000" stroke-width="2"/>
<text x="421.30" y="311.00" font-size="12.20" text-anchor="end" fill="#333333" textLength="17.20" lengthAdjust="spacingAndGlyphs" >3.0</text>
<text x="434.90" y="514.30" font-size="12.40" text-anchor="middle" fill="#333333" textLength="6.40" lengthAdjust="spacingAndGlyphs" >0</text>
<path d="M472.99,491.20V495.70" stroke="#000" stroke-width="2"/>
<text x="472.99" y="514.30" font-size="12.40" text-anchor="middle" fill="#333333" textLength="6.40" lengthAdjust="spacingAndGlyphs" >1</text>
<path d="M511.08,491.20V495.70" stroke="#000" stroke-width="2"/>
<text x="511.08" y="514.30" font-size="12.40" text-anchor="middle" fill="#333333" textLength="6.40" lengthAdjust="spacingAndGlyphs" >2</text>
<path d="M549.17,491.20V495.70" stroke="#000" stroke-width="2"/>
<text x="549.17" y="514.30" font-size="12.40" text-anchor="middle" fill="#333333" textLength="6.40" lengthAdjust="spacingAndGlyphs" >3</text>
<path d="M587.26,491.20V495.70" stroke="#000" stroke-width="2"/>
<text x="587.26" y="514.30" font-size="12.40" text-anchor="middle" fill="#333333" textLength="6.40" lengthAdjust="spacingAndGlyphs" >4</text>
<path d="M625.35,491.20V495.70" stroke="#000" stroke-width="2"/>
<text x="625.35" y="514.30" font-size="12.40" text-anchor="middle" fill="#333333" textLength="6.40" lengthAdjust="spacingAndGlyphs" >5</text>
<path d="M663.44,491.20V495.70" stroke="#000" stroke-width="2"/>
<text x="663.44" y="514.30" font-size="12.40" text-anchor="middle" fill="#333333" textLength="6.40" lengthAdjust="spacingAndGlyphs" >6</text>
<path d="M701.53,491.20V495.70" stroke="#000" stroke-width="2"/>
<text x="701.53" y="514.30" font-size="12.40" text-anchor="middle" fill="#333333" textLength="6.40" lengthAdjust="spacingAndGlyphs" >7</text>
<text x="537.90" y="528.00" font-size="11.20" font-weight="bold" fill="#1a1a1a" textLength="48.00" lengthAdjust="spacingAndGlyphs" >Time (h)</text>
<g transform="translate(399.40,414.70) rotate(-90)">
<text x="0.00" y="0.00" font-size="11.60" font-weight="bold" fill="#1a1a1a" textLength="16.90" lengthAdjust="spacingAndGlyphs" >OD</text>
<text x="17.40" y="2.80" font-size="8.40" fill="#1a1a1a" textLength="15.50" lengthAdjust="spacingAndGlyphs" >600</text>
</g>
<text x="388.00" y="287.60" font-size="25.50" font-weight="bold" fill="#000" >D</text>
<text x="480.40" y="284.60" font-size="15.50" font-weight="bold" fill="#1a1a1a" textLength="40.90" lengthAdjust="spacingAndGlyphs" >initial</text>
<text x="525.70" y="284.60" font-size="15.50" font-weight="bold" fill="#1a1a1a" textLength="23.20" lengthAdjust="spacingAndGlyphs" >OD</text>
<text x="548.00" y="287.80" font-size="10.00" font-weight="bold" fill="#1a1a1a" textLength="18.00" lengthAdjust="spacingAndGlyphs" >600</text>
<text x="569.50" y="284.60" font-size="15.50" font-weight="bold" fill="#1a1a1a" textLength="29.60" lengthAdjust="spacingAndGlyphs" >=0.3</text>
<path d="M54.6,39.00H78.5" stroke="#3a3a3a" stroke-width="1.15"/>
<path d="M66.8,34.40L70.1,39.00L66.8,43.60L63.5,39.00Z" fill="none" stroke="#1e1e1e" stroke-width="1.1"/>
<text x="80.40" y="43.20" font-size="11.50" fill="#333333" textLength="46.20" lengthAdjust="spacingAndGlyphs" >0 µg/ml</text>
<path d="M54.6,63.50H78.5" stroke="#3a3a3a" stroke-width="1.15"/>
<path d="M62.10,58.80L71.50,68.20M62.10,68.20L71.50,58.80" fill="none" stroke="#1e1e1e" stroke-width="1.1"/>
<text x="80.40" y="67.70" font-size="11.50" fill="#333333" textLength="56.00" lengthAdjust="spacingAndGlyphs" >0.3 µg/ml</text>
<path d="M54.6,88.00H78.5" stroke="#3a3a3a" stroke-width="1.15"/>
<path d="M66.80,82.60L71.20,91.60L62.40,91.60Z" fill="none" stroke="#1e1e1e" stroke-width="1.1" stroke-linejoin="miter"/>
<text x="80.40" y="92.20" font-size="11.50" fill="#333333" textLength="56.00" lengthAdjust="spacingAndGlyphs" >0.5 µg/ml</text>
<path d="M54.6,111.50H78.5" stroke="#3a3a3a" stroke-width="1.15"/>
<rect x="63.10" y="107.80" width="7.40" height="7.40" fill="none" stroke="#1e1e1e" stroke-width="1.1"/>
<text x="80.40" y="115.70" font-size="11.50" fill="#333333" textLength="46.20" lengthAdjust="spacingAndGlyphs" >1 µg/ml</text>
<path d="M54.6,136.00H78.5" stroke="#3a3a3a" stroke-width="1.15"/>
<circle cx="66.80" cy="136.00" r="3.90" fill="none" stroke="#1e1e1e" stroke-width="1.1"/>
<text x="80.40" y="140.20" font-size="11.50" fill="#333333" textLength="56.00" lengthAdjust="spacingAndGlyphs" >1.5 µg/ml</text>
<defs><filter id="blur1" filterUnits="userSpaceOnUse" x="440" y="25" width="95" height="50"><feGaussianBlur stdDeviation="0.8"/></filter><filter id="blur2" filterUnits="userSpaceOnUse" x="440" y="25" width="95" height="50"><feGaussianBlur stdDeviation="0.55"/></filter><filter id="blur3" filterUnits="userSpaceOnUse" x="440" y="25" width="95" height="50"><feGaussianBlur stdDeviation="0.35"/></filter></defs>
<rect x="444" y="31.8" width="85" height="39" fill="#e5e5e5"/>
<rect x="448.9" y="53.5" width="28.7" height="17.3" fill="url(#lane1)"/>
<g filter="url(#blur1)"><path d="M449.3,53H477.2" stroke="#8a8a8a" stroke-width="2.4"/><path d="M449.6,51.5V54.8M476.9,51.5V54.8" stroke="#555" stroke-width="1.6"/></g>
<rect x="491.5" y="46" width="27.8" height="6" fill="#eaeaea" filter="url(#blur1)"/>
<rect x="491" y="53.5" width="28.8" height="17.3" fill="url(#lane2)"/>
<g filter="url(#blur3)"><path d="M491.6,53.3V54.8M519.2,53.3V54.8" stroke="#999" stroke-width="1"/><path d="M491.6,55V70.6M519.2,55V70.6" stroke="#a2a2a2" stroke-width="1.2"/></g>
<g filter="url(#blur2)"><path d="M491.2,53.2H519.6" stroke="#161616" stroke-width="2.6"/><path d="M490.6,54L491.4,46.2L493.4,52.5Z" fill="#222"/><path d="M520.2,54L519.4,46.2L517.4,52.5Z" fill="#222"/></g>
</svg></body></html>
